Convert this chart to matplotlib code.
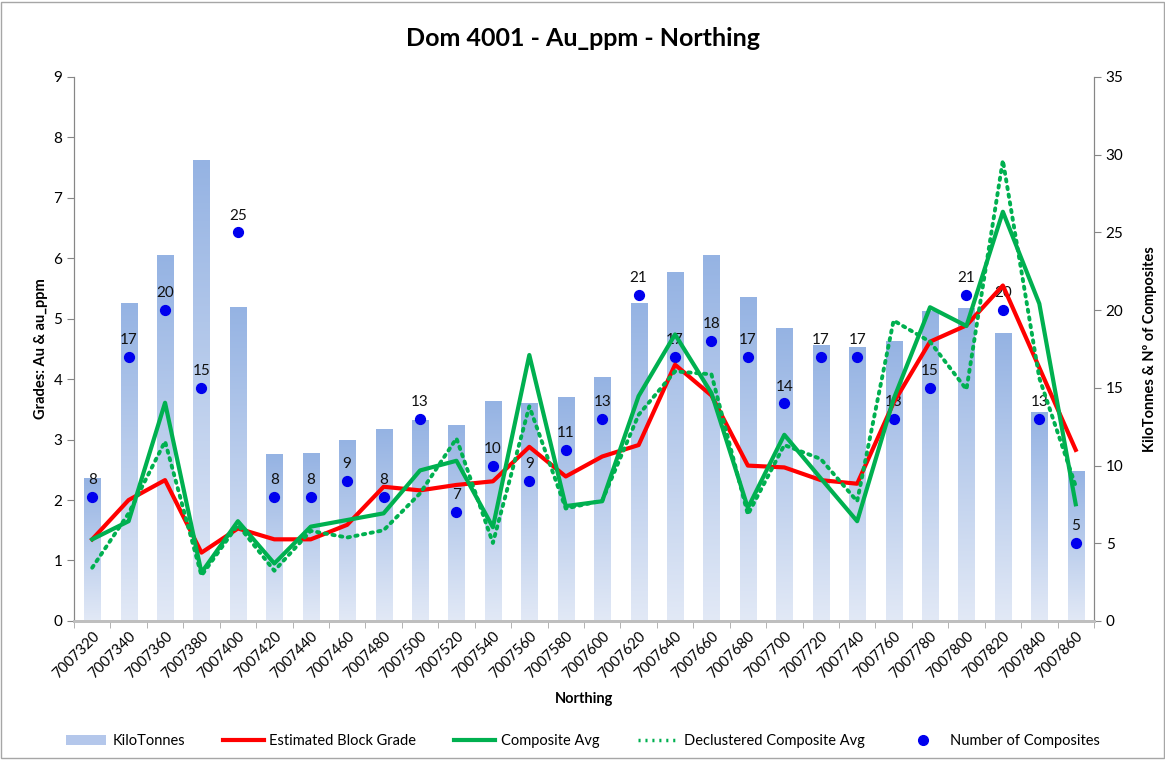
import matplotlib
matplotlib.use("Agg")
import matplotlib.pyplot as plt
import numpy as np
from matplotlib.colors import LinearSegmentedColormap
from matplotlib.lines import Line2D
from matplotlib.patches import Patch, Rectangle

plt.rcParams['font.family'] = ['Lato', 'DejaVu Sans']

northing = [7007320, 7007340, 7007360, 7007380, 7007400, 7007420, 7007440,
            7007460, 7007480, 7007500, 7007520, 7007540, 7007560, 7007580,
            7007600, 7007620, 7007640, 7007660, 7007680, 7007700, 7007720,
            7007740, 7007760, 7007780, 7007800, 7007820, 7007840, 7007860]
kilotonnes = [9.2, 20.4, 23.5, 29.6, 20.2, 10.7, 10.8, 11.6, 12.3, 12.9, 12.6, 14.1,
              14.0, 14.4, 15.7, 20.4, 22.4, 23.5, 20.8, 18.8, 17.7, 17.6, 18.0, 19.9,
              20.1, 18.5, 13.4, 9.6]
block_grade = [1.35, 2.00, 2.33, 1.13, 1.53, 1.35, 1.35, 1.59, 2.22, 2.16, 2.25, 2.31,
               2.88, 2.39, 2.72, 2.91, 4.24, 3.73, 2.57, 2.54, 2.33, 2.27, 3.61, 4.62,
               4.89, 5.55, 4.19, 2.83]
composite_avg = [1.35, 1.65, 3.61, 0.80, 1.65, 0.95, 1.56, 1.67, 1.78, 2.49, 2.65, 1.55,
                 4.40, 1.90, 1.98, 3.72, 4.74, 3.77, 1.87, 3.08, 2.36, 1.65, 3.67, 5.19,
                 4.88, 6.77, 5.25, 1.93]
declustered_avg = [0.88, 1.78, 2.97, 0.75, 1.59, 0.83, 1.49, 1.38, 1.50, 2.11, 3.02, 1.29,
                   3.55, 1.86, 1.99, 3.41, 4.13, 4.08, 1.76, 2.91, 2.68, 1.98, 4.97, 4.62,
                   3.83, 7.62, 4.02, 2.23]
n_composites = [8, 17, 20, 15, 25, 8, 8, 9, 8, 13, 7, 10, 9, 11, 13, 21, 17, 18, 17, 14,
                17, 17, 13, 15, 21, 20, 13, 5]

x = np.arange(len(northing))
bar_w = 0.44
cmap = LinearSegmentedColormap.from_list("kt", ["#e2e9f6", "#95b3e3"])
grad = np.linspace(0, 1, 256).reshape(-1, 1)

fig = plt.figure(figsize=(11.65, 7.6), dpi=100)
ax = fig.add_axes([0.0635, 0.183, 0.8755, 0.7157])
ax2 = ax.twinx()
ax.set_zorder(ax2.get_zorder() + 1)
ax.patch.set_visible(False)

# bars with vertical gradient, on the right axis
for xi, h in zip(x, kilotonnes):
    ax2.imshow(grad, extent=(xi - bar_w / 2, xi + bar_w / 2, 0, h), origin='lower',
               aspect='auto', cmap=cmap, zorder=1)
ax2.scatter(x, n_composites, s=50, color='#0000ee', zorder=3)
for xi, n in zip(x, n_composites):
    ax2.annotate(str(n), (xi, n), xytext=(0, 7), textcoords='offset points',
                 ha='center', va='bottom', fontsize=11, color='#111111', zorder=3)

ax.plot(x, block_grade, color='#ff0000', lw=3, zorder=4)
ax.plot(x, composite_avg, color='#00b050', lw=3, zorder=5)
ax.plot(x, declustered_avg, color='#00b050', lw=2.8, ls=(0, (0.6, 1.4)),
        dash_capstyle='round', zorder=4)

ax.set_xlim(-0.5, len(x) - 0.5)
ax2.set_xlim(-0.5, len(x) - 0.5)
ax.set_ylim(0, 9)
ax2.set_ylim(0, 35)
ax.set_yticks(range(0, 10))
ax2.set_yticks(range(0, 36, 5))

ax.set_xticks(x)
ax.set_xticklabels([str(v) for v in northing], rotation=45, ha='right',
                   rotation_mode='anchor', fontsize=10.5)
ax.tick_params(axis='x', length=0, pad=6)
ax.set_xticks(np.arange(-0.5, len(x), 1), minor=True)
ax.tick_params(axis='x', which='minor', length=5, color='#a6a6a6')
ax.tick_params(axis='y', labelsize=11, color='#868686', length=5)
ax2.tick_params(axis='y', labelsize=11, color='#868686', length=5)

for a in (ax, ax2):
    a.spines['top'].set_visible(False)
    a.spines['left'].set_color('#868686')
    a.spines['right'].set_color('#868686')
    a.spines['bottom'].set_color('#bfbfbf')
    a.spines['bottom'].set_linewidth(2)

ax.set_ylabel("Grades: Au & au_ppm", fontsize=10.5, fontweight='bold', labelpad=4)
ax2.set_ylabel("KiloTonnes & Nº of Composites", fontsize=10.5, fontweight='bold', labelpad=14)
ax.set_xlabel("Northing", fontsize=10.5, fontweight='bold', labelpad=8)
fig.suptitle("Dom 4001 - Au_ppm - Northing", fontsize=18, fontweight='bold', y=0.965)

handles = [
    Patch(facecolor='#b4c7eb', edgecolor='none'),
    Line2D([], [], color='#ff0000', lw=3),
    Line2D([], [], color='#00b050', lw=3),
    Line2D([], [], color='#00b050', lw=2.5, ls=(0, (0.6, 1.4))),
    Line2D([], [], color='#0000ee', marker='o', ls='none', markersize=7),
]
labels = ["KiloTonnes", "Estimated Block Grade", "Composite Avg",
          "Declustered Composite Avg", "Number of Composites"]
fig.legend(handles, labels, loc='center', bbox_to_anchor=(0.5, 0.025), ncol=5,
           frameon=False, fontsize=10.5, columnspacing=2.6, handlelength=2.8,
           handletextpad=0.4)

fig.patches.append(Rectangle((0.001, 0.002), 0.998, 0.996, transform=fig.transFigure,
                             fill=False, edgecolor='#a6a6a6', lw=1))

fig.savefig("out.png", dpi=100)
